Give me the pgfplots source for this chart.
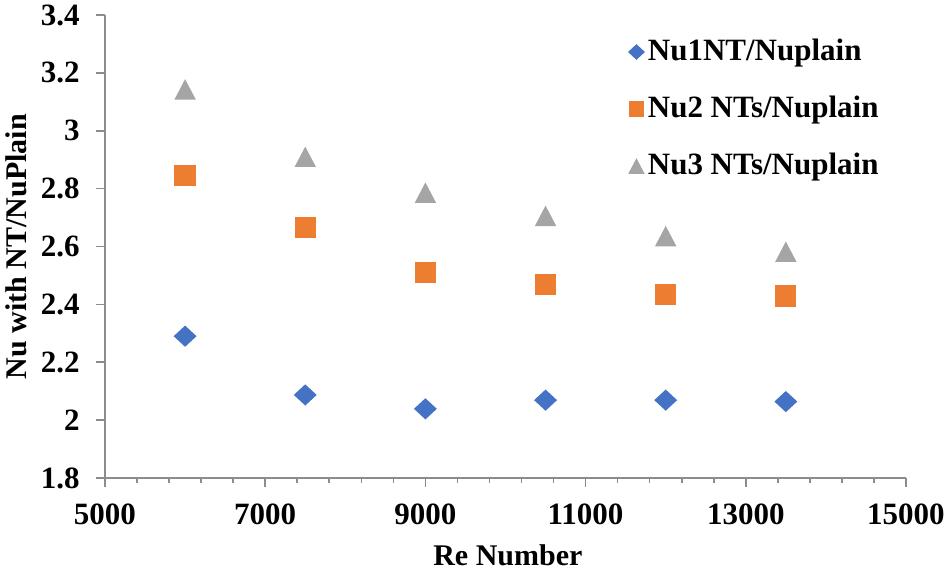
\documentclass[border=0pt]{standalone}
\usepackage{fontspec}
\setmainfont{Liberation Serif}
\usepackage{pgfplots}
\pgfplotsset{compat=1.18}
\definecolor{cblue}{HTML}{4472C4}
\definecolor{corange}{HTML}{ED7D31}
\definecolor{cgray}{HTML}{A5A5A5}
\definecolor{axgray}{HTML}{8C8C8C}
\makeatletter
\pgfdeclareplotmark{sqdiamond}{%
  \pgfpathmoveto{\pgfqpoint{0pt}{\pgfplotmarksize}}%
  \pgfpathlineto{\pgfqpoint{1.08\pgfplotmarksize}{0pt}}%
  \pgfpathlineto{\pgfqpoint{0pt}{-\pgfplotmarksize}}%
  \pgfpathlineto{\pgfqpoint{-1.08\pgfplotmarksize}{0pt}}%
  \pgfpathclose\pgfusepathqfill}
\pgfdeclareplotmark{boxtri}{%
  \pgfpathmoveto{\pgfqpoint{0pt}{\pgfplotmarksize}}%
  \pgfpathlineto{\pgfqpoint{1.05\pgfplotmarksize}{-\pgfplotmarksize}}%
  \pgfpathlineto{\pgfqpoint{-1.05\pgfplotmarksize}{-\pgfplotmarksize}}%
  \pgfpathclose\pgfusepathqfill}
\pgfdeclareplotmark{fsquare}{%
  \pgfpathrectangle{\pgfqpoint{-\pgfplotmarksize}{-\pgfplotmarksize}}{\pgfqpoint{2\pgfplotmarksize}{2\pgfplotmarksize}}%
  \pgfusepathqfill}
\makeatother
\begin{document}
\begin{tikzpicture}
\fontsize{15}{18}\selectfont\bfseries
\useasboundingbox (-52.5pt,-47pt) rectangle (422.5pt,239pt);
\begin{axis}[
  at={(0,0)}, anchor=south west,
  scale only axis, width=400.5pt, height=231.5pt,
  xmin=5000, xmax=15000, ymin=1.8, ymax=3.4,
  xtick={5000,7000,9000,11000,13000,15000},
  minor xtick={5400,5800,6200,6600,7400,7800,8200,8600,9400,9800,10200,10600,11400,11800,12200,12600,13400,13800,14200,14600},
  ytick={1.8,2,2.2,2.4,2.6,2.8,3,3.2,3.4},
  yticklabels={1.8,2,2.2,2.4,2.6,2.8,3,3.2,3.4},
  xticklabels={5000,7000,9000,11000,13000,15000},
  scaled x ticks=false, scaled y ticks=false,
  /pgf/number format/assume math mode=true,
  axis x line*=bottom, axis y line*=left,
  axis line style={draw=axgray, line width=0.8pt},
  tick style={draw=axgray, line width=0.8pt},
  tick align=outside,
  major tick length=4.5pt, minor tick length=2.5pt,
  tick label style={font=\fontsize{15.5}{18}\selectfont\bfseries, text=black},
  xticklabel style={yshift=-3pt},
  yticklabel style={xshift=-3pt},
  xlabel={Re Number}, ylabel={Nu with NT/NuPlain},
  every axis x label/.style={at={(axis description cs:0.503,-0.188)}, anchor=base, font=\fontsize{15}{18}\selectfont\bfseries},
  every axis y label/.style={at={(axis description cs:-0.111,0.5)}, rotate=90, anchor=center, font=\fontsize{15}{18}\selectfont\bfseries},
  clip=false,
  legend style={at={(axis description cs:0.645,0.962)}, anchor=north west, draw=none, fill=none,
    font=\fontsize{15.5}{18}\selectfont\bfseries, row sep=13.5pt,
    nodes={inner xsep=1.5pt, inner ysep=1pt}},
  legend cell align=left,
  legend image code/.code={\draw[#1, mark size=3.9pt] plot coordinates {(0pt,0pt)};},
]
\addplot[only marks, mark=sqdiamond, color=cblue, fill=cblue, mark size=5.3pt]
  coordinates {(6000,2.290) (7500,2.087) (9000,2.039) (10500,2.069) (12000,2.069) (13500,2.064)};
\addlegendentry{Nu1NT/Nuplain}
\addplot[only marks, mark=fsquare, color=corange, fill=corange, mark size=5.3pt]
  coordinates {(6000,2.844) (7500,2.667) (9000,2.511) (10500,2.469) (12000,2.434) (13500,2.429)};
\addlegendentry{Nu2 NTs/Nuplain}
\addplot[only marks, mark=boxtri, color=cgray, fill=cgray, mark size=5.1pt]
  coordinates {(6000,3.143) (7500,2.910) (9000,2.786) (10500,2.706) (12000,2.636) (13500,2.582)};
\addlegendentry{Nu3 NTs/Nuplain}
\end{axis}
\end{tikzpicture}
\end{document}
